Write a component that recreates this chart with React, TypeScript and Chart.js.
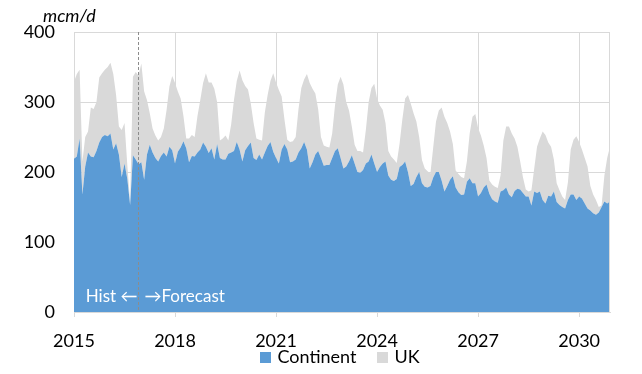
import React, { useEffect, useRef } from 'react';
import { Chart, registerables } from 'chart.js';

Chart.register(...registerables);

// ---- data (monthly, Jan 2015 .. Dec 2030) ----
const startYear = 2015;
const yearTicks = [2015, 2018, 2021, 2024, 2027, 2030];
const yTicks = [0, 100, 200, 300, 400];
const seriesNames = ['Continent', 'UK'];
const unitLabel = 'mcm/d';
const histLabel = 'Hist \u2190';
const forecastLabel = '\u2192Forecast';
const forecastStartMonth = 22.7;

const continent = [
  219, 222, 248, 168, 208, 228, 222, 221, 230, 242, 250, 253,
  251, 255, 232, 241, 225, 193, 212, 190, 153, 224, 218, 211,
  214, 189, 225, 239, 228, 220, 215, 223, 228, 222, 236, 231,
  212, 229, 235, 244, 234, 214, 223, 222, 228, 232, 242, 236,
  227, 234, 218, 240, 220, 218, 218, 226, 228, 230, 243, 232,
  215, 231, 237, 242, 220, 217, 225, 218, 228, 237, 243, 229,
  220, 212, 232, 240, 232, 214, 215, 218, 228, 234, 243, 232,
  205, 214, 225, 230, 220, 209, 210, 210, 220, 230, 234, 220,
  205, 208, 215, 224, 212, 200, 199, 203, 212, 215, 225, 212,
  200, 207, 212, 215, 195, 189, 187, 190, 207, 210, 215, 200,
  180, 183, 193, 200, 184, 179, 178, 180, 192, 200, 200, 188,
  172, 180, 189, 194, 178, 171, 167, 168, 186, 191, 184, 184,
  165, 170, 178, 182, 169, 161, 158, 156, 172, 174, 178, 168,
  164, 173, 176, 175, 170, 165, 165, 152, 172, 170, 172, 160,
  155, 166, 165, 172, 157, 153, 150, 148, 160, 168, 168, 160,
  165, 162, 155, 148, 145, 141, 139, 142, 150, 158, 155, 158,
];

const uk = [
  110, 118, 98, 47, 42, 30, 70, 69, 70, 93, 91, 93,
  99, 101, 108, 69, 40, 67, 58, 20, 4, 112, 125, 127,
  141, 126, 78, 45, 34, 32, 30, 27, 34, 67, 86, 106,
  115, 86, 70, 36, 14, 34, 30, 28, 52, 71, 85, 105,
  101, 94, 101, 60, 25, 30, 34, 19, 40, 73, 87, 113,
  116, 92, 81, 56, 50, 31, 21, 27, 57, 73, 87, 112,
  108, 105, 76, 35, 14, 29, 29, 32, 62, 86, 89, 108,
  122, 105, 87, 60, 30, 29, 26, 25, 35, 65, 91, 116,
  120, 92, 73, 41, 27, 30, 31, 25, 48, 85, 95, 114,
  105, 88, 77, 55, 35, 33, 31, 23, 33, 65, 90, 110,
  118, 101, 79, 50, 33, 26, 23, 18, 43, 72, 88, 104,
  107, 90, 69, 46, 24, 26, 26, 23, 29, 64, 95, 99,
  98, 82, 60, 38, 19, 21, 21, 21, 23, 71, 87, 97,
  91, 75, 60, 40, 22, 10, 7, 22, 33, 66, 76, 98,
  98, 76, 71, 46, 27, 21, 15, 12, 25, 64, 78, 91,
  78, 70, 65, 60, 35, 27, 21, 8, 2, 37, 65, 78,
];

const BLUE = '#5B9BD5';
const GREY = '#D9D9D9';
const GRID = '#D9D9D9';
const FONT = 'Lato';

export default function App() {
  const ref = useRef<HTMLCanvasElement>(null);

  useEffect(() => {
    const canvas = ref.current;
    if (!canvas) return;

    const annot = {
      id: 'annot',
      afterDatasetsDraw(chart: any) {
        const { ctx, chartArea: a, scales } = chart;
        const x = scales.x;
        ctx.save();
        // right border of plot
        ctx.strokeStyle = GRID;
        ctx.lineWidth = 1;
        ctx.beginPath();
        ctx.moveTo(Math.round(a.right) - 0.5, a.top);
        ctx.lineTo(Math.round(a.right) - 0.5, a.bottom);
        ctx.stroke();
        // forecast divider
        const px = Math.round(x.getPixelForValue(forecastStartMonth)) + 0.5;
        ctx.strokeStyle = '#8C8C8C';
        ctx.setLineDash([3, 2]);
        ctx.beginPath();
        ctx.moveTo(px, a.top);
        ctx.lineTo(px, a.bottom);
        ctx.stroke();
        ctx.setLineDash([]);
        // labels
        ctx.fillStyle = '#FFFFFF';
        ctx.font = `17px ${FONT}`;
        ctx.textBaseline = 'middle';
        ctx.textAlign = 'right';
        ctx.fillText(histLabel, px - 1, a.bottom - 15);
        ctx.textAlign = 'left';
        ctx.fillText(forecastLabel, px + 6, a.bottom - 15);
        // unit label
        ctx.fillStyle = '#000000';
        ctx.font = `italic 18px ${FONT}`;
        ctx.textAlign = 'left';
        ctx.fillText(unitLabel, a.left - 31, a.top - 16);
        ctx.restore();
      },
      afterDraw(chart: any) {
        // legend
        const { ctx, chartArea: a } = chart;
        const ds = chart.data.datasets;
        ctx.save();
        ctx.font = `18px ${FONT}`;
        ctx.textBaseline = 'middle';
        ctx.textAlign = 'left';
        const box = 11, gapText = 6, gapItem = 21;
        const widths = ds.map((d: any) => ctx.measureText(d.label).width);
        const total = widths.reduce((s: number, w: number) => s + box + gapText + w, 0) + gapItem * (ds.length - 1);
        const cx = (a.left + a.right) / 2 - 2;
        const cy = a.bottom + 45;
        let xx = cx - total / 2;
        ds.forEach((d: any, i: number) => {
          ctx.fillStyle = d.backgroundColor;
          ctx.fillRect(Math.round(xx), Math.round(cy - box / 2), box, box);
          ctx.fillStyle = '#000';
          ctx.fillText(d.label, xx + box + gapText, cy);
          xx += box + gapText + widths[i] + gapItem;
        });
        ctx.restore();
      },
    };

    const chart = new Chart(canvas, {
      type: 'line',
      data: {
        datasets: [
          {
            label: seriesNames[0],
            data: continent.map((v, i) => ({ x: i, y: v })),
            backgroundColor: BLUE,
            borderColor: BLUE,
            borderWidth: 0,
            pointRadius: 0,
            fill: 'origin',
            tension: 0,
          },
          {
            label: seriesNames[1],
            data: uk.map((v, i) => ({ x: i, y: v })),
            backgroundColor: GREY,
            borderColor: GREY,
            borderWidth: 0,
            pointRadius: 0,
            fill: '-1',
            tension: 0,
          },
        ],
      },
      options: {
        responsive: false,
        animation: false,
        layout: { padding: { left: 0, right: 32, top: 32, bottom: 0 } },
        plugins: {
          legend: { display: false },
          tooltip: { enabled: false },
        },
        scales: {
          x: {
            type: 'linear',
            min: 0,
            max: continent.length - 1,
            afterFit: (s: any) => { s.height = 62; },
            afterBuildTicks: (s: any) => {
              s.ticks = yearTicks.map((y) => ({ value: (y - startYear) * 12 }));
            },
            ticks: {
              color: '#000',
              font: { family: FONT, size: 18 },
              padding: 13,
              maxRotation: 0,
              autoSkip: false,
              callback: (v: any) => String(startYear + Math.round(Number(v) / 12)),
            },
            grid: { color: GRID, tickLength: 5, drawTicks: true },
            border: { display: true, color: GRID },
          },
          y: {
            stacked: true,
            min: 0,
            max: 400,
            afterFit: (s: any) => { s.width = 74; },
            afterBuildTicks: (s: any) => {
              s.ticks = yTicks.map((v) => ({ value: v }));
            },
            ticks: {
              color: '#000',
              font: { family: FONT, size: 18 },
              padding: 19,
            },
            grid: { color: GRID, drawTicks: false },
            border: { display: false },
          },
        },
      },
      plugins: [annot],
    });

    return () => chart.destroy();
  }, []);

  return (
    <div style={{ position: 'absolute', left: 0, top: 0, width: 642, height: 374 }}>
      <canvas ref={ref} width={642} height={374} style={{ display: 'block' }} />
    </div>
  );
}
